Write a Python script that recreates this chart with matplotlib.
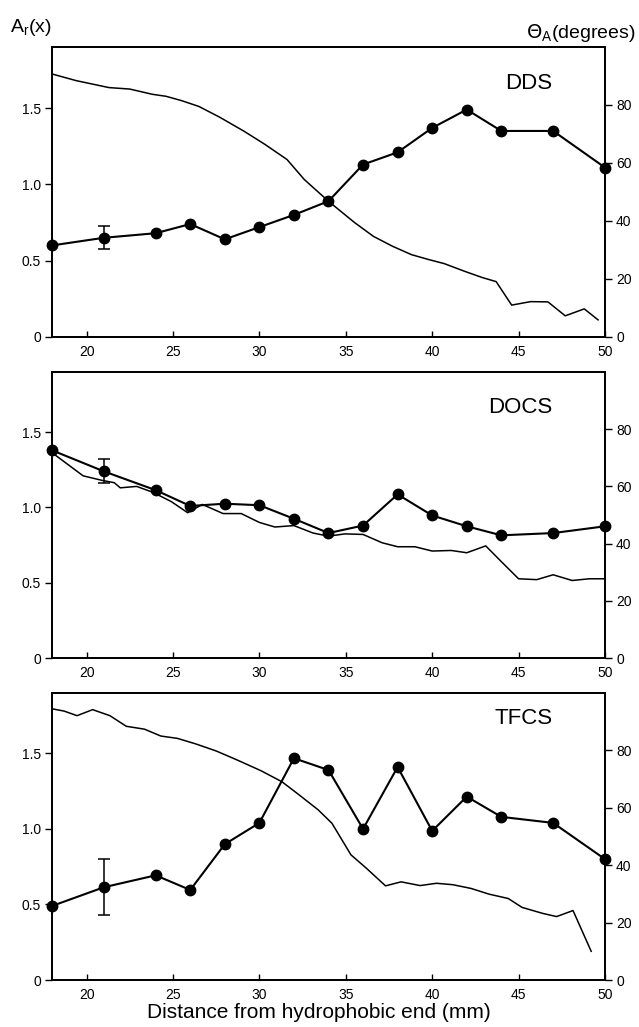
import matplotlib
matplotlib.use("Agg")
import matplotlib.pyplot as plt
import numpy as np

plt.rcParams['font.family'] = ['Liberation Sans', 'DejaVu Sans']

DEG_PER_UNIT = 100 / 1.9

# ---- DDS ----
dds_x = [18, 21, 24, 26, 28, 30, 32, 34, 36, 38, 40, 42, 44, 47, 50]
dds_ar = [0.60, 0.65, 0.68, 0.74, 0.64, 0.72, 0.80, 0.89, 1.13, 1.21, 1.37, 1.49, 1.35, 1.35, 1.11]
dds_err_x = [21]
dds_err_y = [0.65]
dds_err = [0.075]
dds_theta_x = [18, 19.4, 21.3, 22.5, 23.8, 24.6, 25.5, 26.5, 27.7, 29.1, 30.3, 31.6, 32.6, 34.0,
               35.5, 36.6, 37.7, 38.8, 39.8, 40.7, 41.9, 42.9, 43.7, 44.6, 45.7, 46.7, 47.7, 48.8, 49.6]
dds_theta = [90.7, 88.4, 86.0, 85.5, 83.7, 83.0, 81.5, 79.5, 75.8, 71.0, 66.5, 61.2, 54.3, 46.8,
             39.5, 34.7, 31.3, 28.4, 26.7, 25.3, 22.6, 20.5, 19.1, 11.0, 12.2, 12.1, 7.3, 9.7, 5.9]

# ---- DOCS ----
docs_x = [18, 21, 24, 26, 28, 30, 32, 34, 36, 38, 40, 42, 44, 47, 50]
docs_ar = [1.38, 1.24, 1.115, 1.01, 1.025, 1.015, 0.925, 0.83, 0.88, 1.087, 0.947, 0.875, 0.815, 0.83, 0.875]
docs_err_x = [21]
docs_err_y = [1.24]
docs_err = [0.08]
docs_theta_x = [18, 19.8, 20.9, 21.6, 21.95, 22.9, 23.85, 24.9, 25.85, 26.7, 27.9, 28.95, 30.0, 30.9,
                32.0, 33.1, 34.0, 34.95, 36.0, 37.1, 38.0, 39.0, 40.0, 41.1, 42.0, 43.1, 44.0, 45.0,
                46.05, 47.0, 48.1, 49.1, 50.0]
docs_theta = [71.8, 63.7, 62.1, 61.3, 59.5, 60.0, 57.9, 54.7, 50.8, 53.7, 50.5, 50.5, 47.4, 45.8,
              46.3, 43.7, 42.6, 43.4, 43.2, 40.3, 38.9, 38.9, 37.4, 37.6, 36.8, 39.2, 33.7, 27.7,
              27.4, 29.1, 27.1, 27.7, 27.7]

# ---- TFCS ----
tfcs_x = [18, 21, 24, 26, 28, 30, 32, 34, 36, 38, 40, 42, 44, 47, 50]
tfcs_ar = [0.49, 0.614, 0.693, 0.596, 0.899, 1.04, 1.468, 1.39, 1.0, 1.41, 0.987, 1.214, 1.08, 1.04, 0.80]
tfcs_err_x = [21]
tfcs_err_y = [0.614]
tfcs_err = [0.185]
tfcs_theta_x = [18, 18.7, 19.45, 20.35, 21.35, 22.3, 23.35, 24.3, 25.25, 26.3, 27.5, 28.7, 30.1, 31.3,
                32.3, 33.4, 34.2, 35.3, 36.2, 37.3, 38.2, 39.3, 40.25, 41.2, 42.25, 43.3, 44.4, 45.2,
                46.4, 47.2, 48.15, 49.2]
tfcs_theta = [94.5, 93.7, 92.1, 94.2, 92.1, 88.4, 87.4, 85.0, 84.2, 82.3, 79.8, 76.7, 72.9, 69.1,
              64.5, 59.3, 54.6, 43.6, 38.9, 32.8, 34.2, 32.9, 33.7, 33.2, 31.9, 29.9, 28.4, 25.3,
              23.2, 22.1, 24.2, 10.0]

panels = [
    ("DDS", dds_x, dds_ar, dds_err_x, dds_err_y, dds_err, dds_theta_x, dds_theta),
    ("DOCS", docs_x, docs_ar, docs_err_x, docs_err_y, docs_err, docs_theta_x, docs_theta),
    ("TFCS", tfcs_x, tfcs_ar, tfcs_err_x, tfcs_err_y, tfcs_err, tfcs_theta_x, tfcs_theta),
]

left_ticks = [0, 0.5, 1.0, 1.5]
left_ticklabels = ["0", "0.5", "1.0", "1.5"]
right_ticks = [0, 20, 40, 60, 80]
x_ticks = [20, 25, 30, 35, 40, 45, 50]

W, H = 639, 1027
fig = plt.figure(figsize=(W / 100, H / 100), dpi=100)

boxes = [(47, 337), (372, 658), (693, 980)]
label_y = [0.875, 0.875, 0.91]
L, R = 52, 605

for (name, x, ar, ex, ey, ee, tx, th), (top, bot), ly in zip(panels, boxes, label_y):
    ax = fig.add_axes([L / W, 1 - bot / H, (R - L) / W, (bot - top) / H])
    ax2 = ax.twinx()
    ax.set_zorder(ax2.get_zorder() + 1)
    ax.patch.set_visible(False)
    ax.set_xlim(18, 50)
    ax.set_ylim(0, 1.9)
    ax2.set_ylim(0, 1.9 * DEG_PER_UNIT)
    ax2.plot(tx, th, color='black', lw=1.1)
    ax.plot(x, ar, color='black', lw=1.5, marker='o', markersize=7.5, zorder=3, clip_on=False)
    ax.errorbar(ex, ey, yerr=ee, fmt='none', ecolor='black', elinewidth=1.1, capsize=4, capthick=1.1)
    ax.set_yticks(left_ticks)
    ax.set_yticklabels(left_ticklabels)
    ax.set_xticks(x_ticks)
    ax2.set_yticks(right_ticks)
    ax.tick_params(axis='y', direction='out', length=5, width=1, labelsize=10, pad=3)
    ax.tick_params(axis='x', direction='in', length=4, width=1, labelsize=10, pad=6)
    ax2.tick_params(axis='y', direction='out', length=5, width=1, labelsize=10, pad=3)
    for a in (ax, ax2):
        for s in a.spines.values():
            s.set_linewidth(1.3)
    ax.text(0.905, ly, name, transform=ax.transAxes, ha='right', va='center', fontsize=16)

fig.text(10 / W, 1 - 28 / H, r"A$_\mathregular{r}$(x)", fontsize=14, ha='left', va='center')
fig.text(635 / W, 1 - 33 / H, r"$\Theta$$_\mathregular{A}$(degrees)", fontsize=14, ha='right', va='center')
fig.text(0.5 * (125 + 512) / W, 1 - 1013 / H, "Distance from hydrophobic end (mm)",
         fontsize=15, ha='center', va='center')

fig.savefig("out.png", dpi=100, facecolor='white')
